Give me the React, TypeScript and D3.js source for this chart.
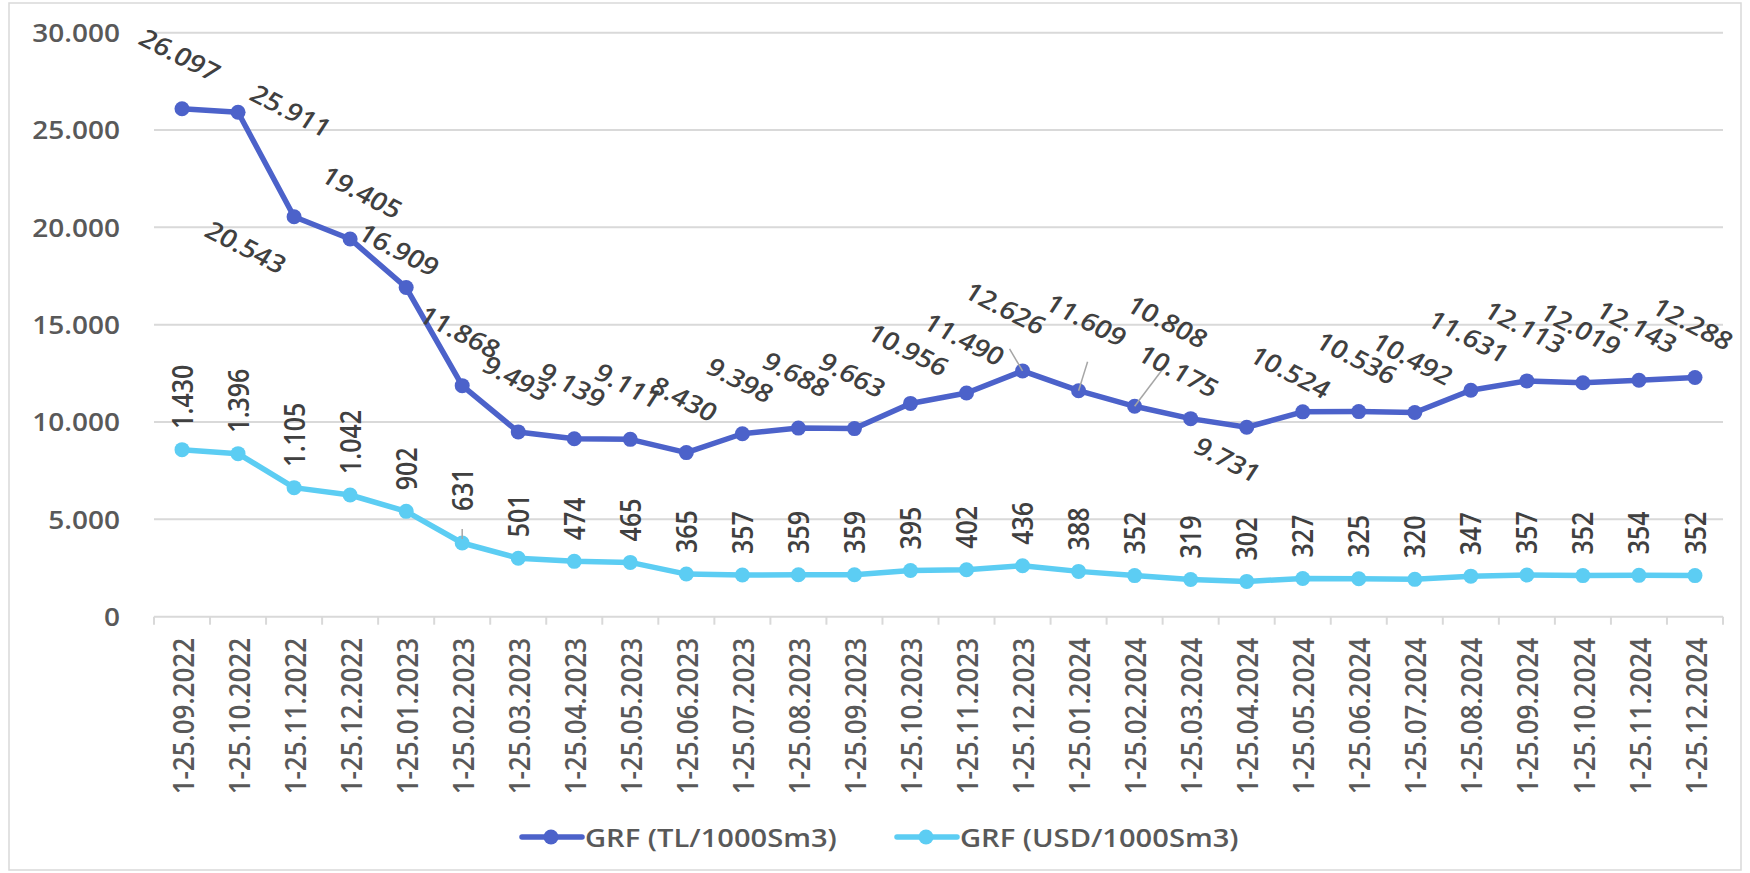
import React from "react";
import * as d3 from "d3";

const categories = [
  "1-25.09.2022", "1-25.10.2022", "1-25.11.2022", "1-25.12.2022",
  "1-25.01.2023", "1-25.02.2023", "1-25.03.2023", "1-25.04.2023",
  "1-25.05.2023", "1-25.06.2023", "1-25.07.2023", "1-25.08.2023",
  "1-25.09.2023", "1-25.10.2023", "1-25.11.2023", "1-25.12.2023",
  "1-25.01.2024", "1-25.02.2024", "1-25.03.2024", "1-25.04.2024",
  "1-25.05.2024", "1-25.06.2024", "1-25.07.2024", "1-25.08.2024",
  "1-25.09.2024", "1-25.10.2024", "1-25.11.2024", "1-25.12.2024",
];

const grfTL = [
  26097, 25911, 20543, 19405, 16909, 11868, 9493, 9139, 9111, 8430,
  9398, 9688, 9663, 10956, 11490, 12626, 11609, 10808, 10175, 9731,
  10524, 10536, 10492, 11631, 12113, 12019, 12143, 12288,
];

const grfUSD = [
  1430, 1396, 1105, 1042, 902, 631, 501, 474, 465, 365,
  357, 359, 359, 395, 402, 436, 388, 352, 319, 302,
  327, 325, 320, 347, 357, 352, 354, 352,
];

const yTicks = [0, 5000, 10000, 15000, 20000, 25000, 30000];
const seriesNames = ["GRF (TL/1000Sm3)", "GRF (USD/1000Sm3)"];

// manual label placements (offsets of label centre from the point), as in the original
const tlLabelMoves: Record<number, [number, number]> = {
  1: [53, -2],
  2: [-48, 30],
  3: [12, -47],
  4: [-7, -38],
  15: [-17, -63],
  16: [8, -71],
  17: [33, -85],
  18: [-12, -48],
  19: [-19, 32],
  20: [-12, -40],
};
const tlLeaders: Record<number, [number, number]> = {
  15: [-13, -22],
  16: [9, -29],
  17: [31, -41],
};
const usdLabelMoves: Record<number, number> = { 5: -11 };

const W = 1750;
const H = 873;
const SX = 1.12;
const FONT = "'Open Sans', 'DejaVu Sans', sans-serif";
const TL_COLOR = "#4C62CA";
const USD_COLOR = "#5CCDF3";

const locale = d3.formatLocale({ decimal: ",", thousands: ".", grouping: [3], currency: ["", ""] });
const fmt = locale.format(",d");

export default function App() {
  const x = d3.scaleBand<string>().domain(categories).range([154, 1723]).padding(0);
  const y = d3.scaleLinear().domain([0, 30000]).range([616.7, 32.7]);
  const y2 = d3.scaleLinear().domain([0, 5000]).range([616.7, 32.7]);
  const cx = (c: string) => (x(c) as number) + x.bandwidth() / 2;

  const tlLine = d3.line<number>().x((_, i) => cx(categories[i])).y((v) => y(v));
  const usdLine = d3.line<number>().x((_, i) => cx(categories[i])).y((v) => y2(v));

  const [x0, x1] = x.range();
  const boundaries = categories.map((c) => x(c) as number).concat([x1]);

  return (
    <svg
      width={W}
      height={H}
      style={{ position: "absolute", left: 0, top: 0, background: "#fff" }}
      fontFamily={FONT}
    >
      <rect x={9} y={3} width={W - 18} height={H - 6} fill="#fff" stroke="#D9D9D9" strokeWidth={1.5} />

      {/* gridlines */}
      {yTicks.filter((t) => t > 0).map((t) => (
        <line key={t} x1={x0} x2={x1} y1={y(t)} y2={y(t)} stroke="#D9D9D9" strokeWidth={2} />
      ))}

      {/* x axis */}
      <line x1={x0} x2={x1} y1={y(0)} y2={y(0)} stroke="#D9D9D9" strokeWidth={2} />
      {boundaries.map((b, i) => (
        <line key={i} x1={b} x2={b} y1={y(0)} y2={y(0) + 8} stroke="#D9D9D9" strokeWidth={2} />
      ))}

      {/* y tick labels */}
      {yTicks.map((t) => (
        <text
          key={t}
          transform={`translate(120,${y(t)}) scale(${SX},1)`}
          textAnchor="end"
          dominantBaseline="central"
          fontSize={25}
          fontWeight={600}
          fill="#595959"
        >
          {fmt(t)}
        </text>
      ))}

      {/* category labels */}
      {categories.map((c) => (
        <text
          key={c}
          transform={`translate(${cx(c)},638) scale(${SX},1) rotate(-90)`}
          textAnchor="end"
          dominantBaseline="central"
          fontSize={26}
          fontWeight={600}
          fill="#595959"
        >
          {c}
        </text>
      ))}

      {/* lines */}
      <path d={tlLine(grfTL) as string} fill="none" stroke={TL_COLOR} strokeWidth={5.5} strokeLinejoin="round" />
      <path d={usdLine(grfUSD) as string} fill="none" stroke={USD_COLOR} strokeWidth={5.5} strokeLinejoin="round" />
      {grfTL.map((v, i) => (
        <circle key={"t" + i} cx={cx(categories[i])} cy={y(v)} r={7.5} fill={TL_COLOR} />
      ))}
      {grfUSD.map((v, i) => (
        <circle key={"u" + i} cx={cx(categories[i])} cy={y2(v)} r={7.5} fill={USD_COLOR} />
      ))}

      {/* leader lines */}
      {Object.entries(tlLeaders).map(([k, [dx, dy]]) => {
        const i = +k;
        const px = cx(categories[i]);
        const py = y(grfTL[i]);
        return <line key={"l" + k} x1={px} y1={py} x2={px + dx} y2={py + dy} stroke="#A6A6A6" strokeWidth={1.5} />;
      })}
      <line
        x1={cx(categories[5])}
        x2={cx(categories[5])}
        y1={y2(grfUSD[5]) - 4}
        y2={y2(grfUSD[5]) - 14}
        stroke="#A6A6A6"
        strokeWidth={1.5}
      />

      {/* TL labels */}
      {grfTL.map((v, i) => {
        const [dx, dy] = tlLabelMoves[i] ?? [-2, -54];
        const px = cx(categories[i]) + dx;
        const py = y(v) + dy;
        return (
          <text
            key={"tl" + i}
            transform={`translate(${px},${py}) scale(${SX},1) rotate(30)`}
            textAnchor="middle"
            dominantBaseline="central"
            fontSize={25}
            fontWeight={600}
            fill="#404040"
          >
            {fmt(v)}
          </text>
        );
      })}

      {/* USD labels */}
      {grfUSD.map((v, i) => {
        const px = cx(categories[i]);
        const py = y2(v) - 21 + (usdLabelMoves[i] ?? 0);
        return (
          <text
            key={"us" + i}
            transform={`translate(${px},${py}) scale(${SX},1) rotate(-90)`}
            textAnchor="start"
            dominantBaseline="central"
            fontSize={25}
            fontWeight={600}
            fill="#404040"
          >
            {fmt(v)}
          </text>
        );
      })}

      {/* legend */}
      {[
        { name: seriesNames[0], color: TL_COLOR, lx: 522 },
        { name: seriesNames[1], color: USD_COLOR, lx: 897 },
      ].map((s) => (
        <g key={s.name}>
          <line x1={s.lx} x2={s.lx + 60} y1={837} y2={837} stroke={s.color} strokeWidth={5.5} strokeLinecap="round" />
          <circle cx={s.lx + 29} cy={837} r={7.5} fill={s.color} />
          <text
            transform={`translate(${s.lx + 63},837) scale(${SX},1)`}
            dominantBaseline="central"
            fontSize={26}
            fontWeight={600}
            fill="#595959"
          >
            {s.name}
          </text>
        </g>
      ))}
    </svg>
  );
}
